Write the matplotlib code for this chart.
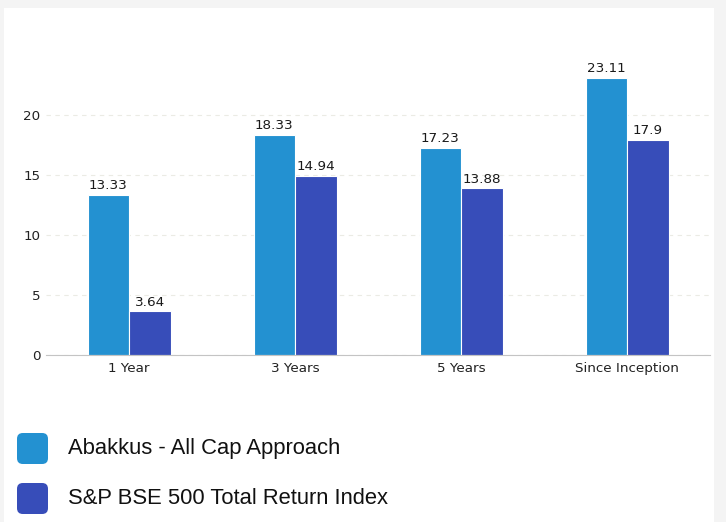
import numpy as np
import matplotlib.pyplot as plt
from matplotlib.patches import Rectangle, FancyBboxPatch

# data
categories = ["1 Year", "3 Years", "5 Years", "Since Inception"]
fund_name = "Abakkus - All Cap Approach"
bench_name = "S&P BSE 500 Total Return Index"
fund_returns = [13.33, 18.33, 17.23, 23.11]
bench_returns = [3.64, 14.94, 13.88, 17.9]
fund_labels = ["13.33", "18.33", "17.23", "23.11"]
bench_labels = ["3.64", "14.94", "13.88", "17.9"]
y_ticks = [0, 5, 10, 15, 20]

FUND_COL = "#2391d1"
BENCH_COL = "#374db9"
W, H = 726, 522

fig = plt.figure(figsize=(W / 100, H / 100), dpi=100, facecolor="#f4f4f4")
# white card behind the chart
fig.patches.append(Rectangle((4 / W, 0), 710 / W, 1 - 8 / H, transform=fig.transFigure,
                             facecolor="white", edgecolor="none", zorder=-5))

ax = fig.add_axes([46 / W, 1 - 355 / H, 664 / W, 300 / H])
ax.set_facecolor("none")
ax.set_zorder(2)

x = np.arange(len(categories))
bw = 0.25
b1 = ax.bar(x - bw / 2, fund_returns, bw, color=FUND_COL, edgecolor="white", linewidth=0.8, zorder=3)
b2 = ax.bar(x + bw / 2, bench_returns, bw, color=BENCH_COL, edgecolor="white", linewidth=0.8, zorder=3)
ax.bar_label(b1, labels=fund_labels, padding=2, fontsize=9.7, color="#1a1a1a")
ax.bar_label(b2, labels=bench_labels, padding=2, fontsize=9.7, color="#1a1a1a")

ax.set_xlim(-0.5, len(categories) - 0.5)
ax.set_ylim(0, 25)
ax.set_yticks(y_ticks)
ax.set_xticks(x)
ax.set_xticklabels(categories)
ax.tick_params(length=0, labelsize=9.7, labelcolor="#222222")
ax.tick_params(axis="y", pad=4)
ax.tick_params(axis="x", pad=5)
ax.yaxis.grid(True, linestyle=(0, (4, 4)), color="#ebebe4", linewidth=0.8)
ax.set_axisbelow(True)
for s in ["top", "right", "left"]:
    ax.spines[s].set_visible(False)
ax.spines["bottom"].set_color("#c4c4c4")
ax.spines["bottom"].set_zorder(4)

# legend drawn as rounded squares with text below the chart
for i, (name, col) in enumerate([(fund_name, FUND_COL), (bench_name, BENCH_COL)]):
    top = 433 + i * 50
    fig.patches.append(FancyBboxPatch((17 / W, 1 - (top + 31) / H), 31 / W, 31 / H,
                                      boxstyle="round,pad=0,rounding_size=0.008",
                                      transform=fig.transFigure, facecolor=col,
                                      edgecolor="none", mutation_aspect=W / H))
    fig.text(68 / W, 1 - (top + 15.5) / H, name, fontsize=15.8, family="Liberation Sans",
             va="center", ha="left", color="#111111")

fig.savefig("out.png", dpi=100, facecolor=fig.get_facecolor())
